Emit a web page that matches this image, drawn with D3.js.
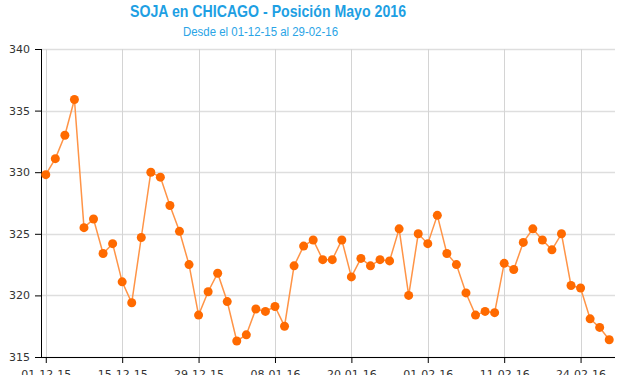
<!DOCTYPE html>
<html>
<head>
<meta charset="utf-8">
<script src="https://cdn.jsdelivr.net/npm/d3@7/dist/d3.min.js"></script>
<style>
  body { margin: 0; background: #fff; }
  .tick text { font-family: "DejaVu Sans", sans-serif; font-size: 11px; fill: #333; }
</style>
</head>
<body>
<script>
// Soja Chicago, posicion mayo 2016 (one value per trading day)
var prices = [329.8, 331.1, 333.0, 335.9, 325.5, 326.2, 323.4, 324.2, 321.1, 319.4,
              324.7, 330.0, 329.6, 327.3, 325.2, 322.5, 318.4, 320.3, 321.8, 319.5,
              316.3, 316.8, 318.9, 318.7, 319.1, 317.5, 322.4, 324.0, 324.5, 322.9,
              322.9, 324.5, 321.5, 323.0, 322.4, 322.9, 322.8, 325.4, 320.0, 325.0,
              324.2, 326.5, 323.4, 322.5, 320.2, 318.4, 318.7, 318.6, 322.6, 322.1,
              324.3, 325.4, 324.5, 323.7, 325.0, 320.8, 320.6, 318.1, 317.4, 316.4]

// Tick labels on the x axis, one every 8 trading days
var tickIndex = [0, 8, 16, 24, 32, 40, 48, 56]
var tickLabels = ["01-12-15", "15-12-15", "29-12-15", "08-01-16", "20-01-16", "01-02-16", "11-02-16", "24-02-16"]
var yTicks = [315, 320, 325, 330, 335, 340]

var width = 620, height = 375
var plot = {left: 41, right: 615, top: 49, bottom: 357}

var svg = d3.select("body")
            .append("svg")
            .attr("width", width)
            .attr("height", height)

var x = d3.scalePoint()
          .domain(d3.range(prices.length))
          .range([plot.left, plot.right - 1])
          .padding(0.5)

var y = d3.scaleLinear()
          .domain([315, 340])
          .range([plot.bottom, plot.top])

// Titles
svg.append("text")
   .attr("x", 268)
   .attr("y", 17)
   .attr("text-anchor", "middle")
   .attr("textLength", 276)
   .attr("lengthAdjust", "spacingAndGlyphs")
   .style("font-family", "Liberation Sans, Arial, sans-serif")
   .style("font-weight", "bold")
   .style("font-size", "17px")
   .style("fill", "#1e9fe3")
   .text("SOJA en CHICAGO - Posición Mayo 2016")

svg.append("text")
   .attr("x", 260.5)
   .attr("y", 36)
   .attr("text-anchor", "middle")
   .attr("textLength", 155)
   .attr("lengthAdjust", "spacingAndGlyphs")
   .style("font-family", "Liberation Sans, Arial, sans-serif")
   .style("font-size", "12.5px")
   .style("fill", "#2aa4e6")
   .text("Desde el 01-12-15 al 29-02-16")

// Gridlines
svg.append("g")
   .selectAll("line")
   .data(yTicks)
   .enter()
   .append("line")
   .attr("x1", plot.left)
   .attr("x2", plot.right)
   .attr("y1", function(d){ return Math.round(y(d)) + 0.5 })
   .attr("y2", function(d){ return Math.round(y(d)) + 0.5 })
   .style("stroke", "#dedede")
   .style("stroke-width", 1.5)

svg.append("g")
   .selectAll("line")
   .data(tickIndex)
   .enter()
   .append("line")
   .attr("x1", function(d){ return Math.round(x(d)) + 0.5 })
   .attr("x2", function(d){ return Math.round(x(d)) + 0.5 })
   .attr("y1", plot.top)
   .attr("y2", plot.bottom)
   .style("stroke", "#d4d4d4")

// Axes
var xAxis = d3.axisBottom(x)
              .tickValues(tickIndex)
              .tickSize(6)
              .tickPadding(7)
              .tickFormat(function(d){ return tickLabels[tickIndex.indexOf(d)] })

var yAxis = d3.axisLeft(y)
              .tickValues(yTicks)
              .tickSize(6)
              .tickPadding(5)

svg.append("g")
   .attr("transform", "translate(0," + plot.bottom + ")")
   .call(xAxis)
   .call(function(g){ g.select(".domain").remove() })

svg.append("g")
   .attr("transform", "translate(" + plot.left + ",0)")
   .call(yAxis)
   .call(function(g){ g.select(".domain").remove() })

svg.append("line")
   .attr("x1", plot.left)
   .attr("x2", plot.right)
   .attr("y1", plot.bottom + 0.5)
   .attr("y2", plot.bottom + 0.5)
   .style("stroke", "#000")

svg.append("line")
   .attr("x1", plot.left + 0.5)
   .attr("x2", plot.left + 0.5)
   .attr("y1", plot.top)
   .attr("y2", plot.bottom + 1)
   .style("stroke", "#000")

// Line and dots
var line = d3.line()
             .x(function(d, i){ return x(i) })
             .y(function(d){ return y(d) })

svg.append("path")
   .datum(prices)
   .attr("d", line)
   .style("fill", "none")
   .style("stroke", "#ff9447")
   .style("stroke-width", 1.5)

svg.selectAll(".dot")
   .data(prices)
   .enter()
   .append("circle")
   .attr("class", "dot")
   .attr("cx", function(d, i){ return x(i) })
   .attr("cy", function(d){ return y(d) })
   .attr("r", 4.5)
   .style("fill", "#ff6a00")
</script>
</body>
</html>
